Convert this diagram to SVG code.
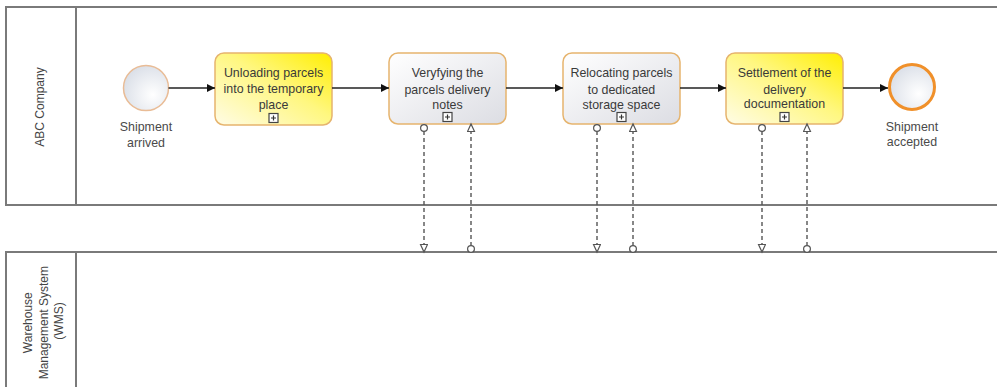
<svg xmlns="http://www.w3.org/2000/svg" width="997" height="387" viewBox="0 0 997 387">
  <style>
    .pool { fill: none; stroke: #7a7a7a; stroke-width: 2; }
    .lane-label { font-family: "Liberation Sans", Arial, sans-serif; font-size: 12px; fill: #444; text-anchor: middle; }
    .task-text { font-family: "Liberation Sans", Arial, sans-serif; font-size: 12.4px; fill: #3a3a3a; text-anchor: middle; }
    .event-text { font-family: "Liberation Sans", Arial, sans-serif; font-size: 12.4px; fill: #4a4a4a; text-anchor: middle; }
    .task { stroke: #e6b46e; stroke-width: 1.5; }
    .expand { fill: #fff; stroke: #444; stroke-width: 1.2; }
    .seq { fill: none; stroke: #222; stroke-width: 1.5; marker-end: url(#seqArrow); }
    .msg { fill: none; stroke: #555; stroke-width: 1.4; stroke-dasharray: 4 3; marker-start: url(#msgStart); marker-end: url(#msgEnd); }
  </style>
  <defs>
    <linearGradient id="yellowFill" x1="0" y1="1" x2="1" y2="0">
      <stop offset="0" stop-color="#fffce6"/>
      <stop offset="0.55" stop-color="#fff780"/>
      <stop offset="1" stop-color="#ffee00"/>
    </linearGradient>
    <linearGradient id="grayFill" x1="0" y1="0" x2="1" y2="1">
      <stop offset="0" stop-color="#ffffff"/>
      <stop offset="1" stop-color="#dcdde3"/>
    </linearGradient>
    <radialGradient id="eventFill" cx="0.65" cy="0.65" r="0.75">
      <stop offset="0" stop-color="#ffffff"/>
      <stop offset="1" stop-color="#d8dde6"/>
    </radialGradient>
    <marker id="seqArrow" markerUnits="userSpaceOnUse" markerWidth="10" markerHeight="10" refX="8" refY="4" orient="auto">
      <path d="M0,0 L8,4 L0,8 Z" fill="#111"/>
    </marker>
    <marker id="msgEnd" markerUnits="userSpaceOnUse" markerWidth="10" markerHeight="10" refX="8" refY="4" orient="auto">
      <path d="M0.5,0.5 L8,4 L0.5,7.5 Z" fill="#fff" stroke="#555" stroke-width="1.2"/>
    </marker>
    <marker id="msgStart" markerUnits="userSpaceOnUse" markerWidth="10" markerHeight="10" refX="0" refY="4" orient="auto">
      <circle cx="4" cy="4" r="3.4" fill="#fff" stroke="#555" stroke-width="1.2"/>
    </marker>
  </defs>

  <rect width="997" height="387" fill="#fff"/>

  <!-- Pool: ABC Company -->
  <g id="pool-abc">
    <path class="pool" d="M1000,7 H6 V205 H1000"/>
    <line class="pool" x1="76" y1="7" x2="76" y2="205"/>
    <text class="lane-label" transform="translate(44,107) rotate(-90)">ABC Company</text>
  </g>

  <!-- Pool: Warehouse Management System -->
  <g id="pool-wms">
    <path class="pool" d="M1000,252 H6 V392"/>
    <line class="pool" x1="76" y1="252" x2="76" y2="392"/>
    <text class="lane-label" transform="translate(32,321) rotate(-90)">
      <tspan x="0" y="0">Warehouse</tspan>
      <tspan x="0" y="15.5">Management System</tspan>
      <tspan x="0" y="31">(WMS)</tspan>
    </text>
  </g>

  <!-- Start event -->
  <g id="start-event">
    <circle cx="146" cy="88" r="22.5" fill="url(#eventFill)" stroke="#e9bc96" stroke-width="1.5"/>
    <text class="event-text" x="146" y="131">Shipment</text>
    <text class="event-text" x="146" y="147">arrived</text>
  </g>

  <!-- Task 1 -->
  <g id="task-unloading">
    <rect class="task" x="215" y="53" width="117" height="72" rx="9" fill="url(#yellowFill)"/>
    <text class="task-text" x="273.5" y="77">Unloading parcels</text>
    <text class="task-text" x="273.5" y="93">into the temporary</text>
    <text class="task-text" x="273.5" y="109">place</text>
    <rect class="expand" x="269" y="113.5" width="9" height="9"/>
    <path d="M271,118 H276 M273.5,115.5 V120.5" stroke="#333" stroke-width="1.2"/>
  </g>

  <!-- Task 2 -->
  <g id="task-verifying">
    <rect class="task" x="389" y="53" width="117" height="71" rx="9" fill="url(#grayFill)"/>
    <text class="task-text" x="447.5" y="77">Veryfying the</text>
    <text class="task-text" x="447.5" y="94">parcels delivery</text>
    <text class="task-text" x="447.5" y="109">notes</text>
    <rect class="expand" x="443" y="112.5" width="9" height="9"/>
    <path d="M445,117 H450 M447.5,114.5 V119.5" stroke="#333" stroke-width="1.2"/>
  </g>

  <!-- Task 3 -->
  <g id="task-relocating">
    <rect class="task" x="563" y="53" width="117" height="71" rx="9" fill="url(#grayFill)"/>
    <text class="task-text" x="621.5" y="77">Relocating parcels</text>
    <text class="task-text" x="621.5" y="94">to dedicated</text>
    <text class="task-text" x="621.5" y="109">storage space</text>
    <rect class="expand" x="617" y="112.5" width="9" height="9"/>
    <path d="M619,117 H624 M621.5,114.5 V119.5" stroke="#333" stroke-width="1.2"/>
  </g>

  <!-- Task 4 -->
  <g id="task-settlement">
    <rect class="task" x="726" y="53" width="117" height="71" rx="9" fill="url(#yellowFill)"/>
    <text class="task-text" x="784.5" y="77">Settlement of the</text>
    <text class="task-text" x="784.5" y="94">delivery</text>
    <text class="task-text" x="784.5" y="108">documentation</text>
    <rect class="expand" x="780" y="112.5" width="9" height="9"/>
    <path d="M782,117 H787 M784.5,114.5 V119.5" stroke="#333" stroke-width="1.2"/>
  </g>

  <!-- End event -->
  <g id="end-event">
    <circle cx="912" cy="87" r="22.5" fill="url(#eventFill)" stroke="#f0902a" stroke-width="3"/>
    <text class="event-text" x="912" y="131">Shipment</text>
    <text class="event-text" x="912" y="146">accepted</text>
  </g>

  <!-- Connectors -->
  <g id="connectors">
    <path class="seq" d="M168.5,88 H215"/>
    <path class="seq" d="M332,88 H389"/>
    <path class="seq" d="M506,88 H563"/>
    <path class="seq" d="M680,88 H726"/>
    <path class="seq" d="M843,88 H888"/>

    <path class="msg" d="M424,124 V252"/>
    <path class="msg" d="M471,253 V124"/>
    <path class="msg" d="M597,124 V252"/>
    <path class="msg" d="M633,253 V124"/>
    <path class="msg" d="M762,124 V252"/>
    <path class="msg" d="M807,253 V124"/>
  </g>
</svg>
